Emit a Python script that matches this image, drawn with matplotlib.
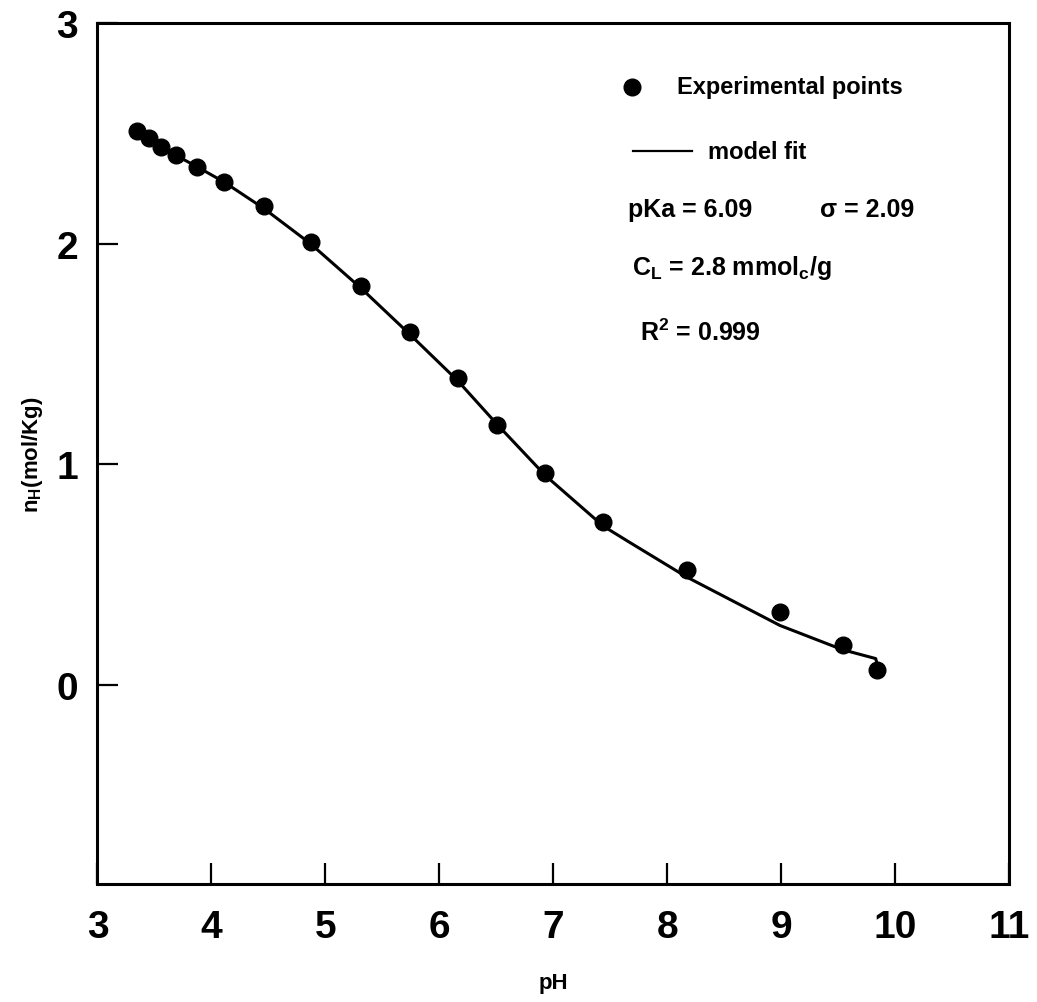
import matplotlib
matplotlib.use("Agg")
import matplotlib.pyplot as plt

plt.rcParams['font.family'] = ['Liberation Sans', 'DejaVu Sans']
plt.rcParams['font.weight'] = 'bold'
plt.rcParams['mathtext.fontset'] = 'custom'
plt.rcParams['mathtext.rm'] = 'Liberation Sans:bold'
plt.rcParams['mathtext.it'] = 'Liberation Sans:bold'
plt.rcParams['mathtext.bf'] = 'Liberation Sans:bold'

# measured titration points
ph = [3.35, 3.45, 3.56, 3.69, 3.87, 4.11, 4.46, 4.87, 5.31, 5.74, 6.16, 6.51,
      6.93, 7.44, 8.17, 8.99, 9.54, 9.84]
nh = [2.51, 2.48, 2.44, 2.40, 2.35, 2.28, 2.17, 2.01, 1.81, 1.60, 1.39, 1.18,
      0.96, 0.74, 0.52, 0.33, 0.18, 0.07]

# model curve
fit_ph = [3.35, 3.69, 3.87, 4.11, 4.46, 4.87, 5.31, 5.74, 6.16, 6.51, 6.93,
          7.44, 7.66, 8.17, 8.99, 9.54, 9.83, 9.84]
fit_nh = [2.49, 2.40, 2.35, 2.28, 2.16, 2.00, 1.80, 1.59, 1.38, 1.18, 0.95,
          0.72, 0.65, 0.49, 0.27, 0.16, 0.12, 0.10]

xticks = [3, 4, 5, 6, 7, 8, 9, 10, 11]
yticks = [0, 1, 2, 3]

fig = plt.figure(figsize=(10.37, 10.03), dpi=100)
ax = fig.add_axes([0.094, 0.118, 0.879, 0.858])

ax.plot(fit_ph, fit_nh, color='black', lw=2.2, zorder=2)
ax.plot(ph, nh, 'o', color='black', ms=12, zorder=3)

ax.set_xlim(3, 11)
ax.set_ylim(-0.9, 3)
ax.set_xticks(xticks)
ax.set_yticks(yticks)
ax.tick_params(axis='x', direction='in', length=15, width=1.6, labelsize=28, pad=18)
ax.tick_params(axis='y', direction='in', length=15, width=1.6, labelsize=28, pad=14)
for lab in ax.get_xticklabels() + ax.get_yticklabels():
    lab.set_fontweight('bold')
for sp in ax.spines.values():
    sp.set_linewidth(2.2)

ax.set_xlabel('pH', fontsize=16, fontweight='bold', labelpad=20)
ax.set_ylabel(r'n$_\mathrm{H}$(mol/Kg)', fontsize=16, fontweight='bold', labelpad=8)

# legend and fit parameters
tr = ax.transAxes
ax.plot([0.586], [0.926], 'o', color='black', ms=12, transform=tr, clip_on=False)
ax.text(0.636, 0.926, 'Experimental points', transform=tr, fontsize=17,
        fontweight='bold', va='center')
ax.plot([0.588, 0.652], [0.851, 0.851], color='black', lw=1.6, transform=tr)
ax.text(0.670, 0.851, 'model fit', transform=tr, fontsize=17,
        fontweight='bold', va='center')
ax.text(0.582, 0.784, 'pKa = 6.09', transform=tr, fontsize=18,
        fontweight='bold', va='center')
ax.text(0.793, 0.784, 'σ = 2.09', transform=tr, fontsize=18,
        fontweight='bold', va='center')
ax.text(0.586, 0.717, r'C$_\mathrm{L}$ = 2.8 mmol$_\mathrm{c}$/g', transform=tr,
        fontsize=18, fontweight='bold', va='center')
ax.text(0.595, 0.641, r'R$^\mathrm{2}$ = 0.999', transform=tr, fontsize=18,
        fontweight='bold', va='center')

fig.savefig('out.png', dpi=100)
